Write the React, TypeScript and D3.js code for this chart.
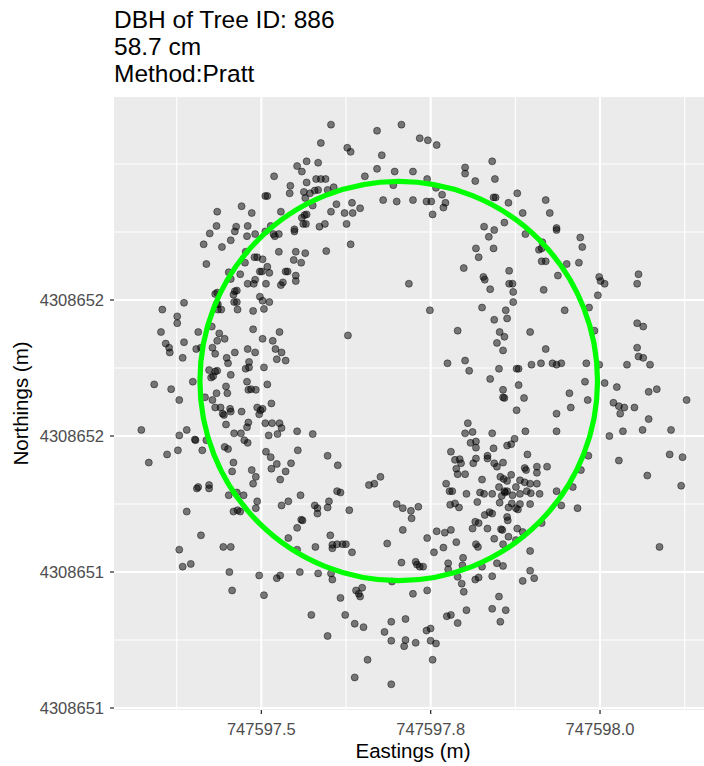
import * as d3 from "d3";

// Plot text
const TITLE_LINES = ["DBH of Tree ID: 886", "58.7 cm", "Method:Pratt"];
const X_LABEL = "Eastings (m)";
const Y_LABEL = "Northings (m)";

// Fitted stem (Pratt circle fit)
const STEM_EASTING = 747597.7028;
const STEM_NORTHING = 4308651.6809;
const DBH_CM = 58.7;

// Axis breaks
const X_BREAKS = [747597.5, 747597.75, 747598.0];
const X_BREAK_LABELS = ["747597.5", "747597.8", "747598.0"];
const X_MINOR = [747597.375, 747597.625, 747597.875, 747598.125];
const Y_BREAKS = [4308651.2, 4308651.4, 4308651.6, 4308651.8];
const Y_BREAK_LABELS = ["4308651", "4308651", "4308652", "4308652"];
const Y_MINOR = [4308651.3, 4308651.5, 4308651.7, 4308651.9, 4308652.0];

// Slice returns: [east offset, north offset] from the stem centre, in cm
const RETURN_OFFSETS_CM: [number, number][] = [
  [-13.6,32.3],[-15.0,31.6],[-14.3,30.8],[-18.4,30.1],[-16.0,28.7],[-16.1,27.6],[-13.6,29.2],[-14.0,27.8],[-13.1,27.6],[-12.4,28.0],
  [-13.8,26.9],[-12.7,25.8],[-19.7,27.2],[-19.4,27.2],[-23.2,25.7],[-26.8,24.9],[-21.7,24.7],[-17.4,24.9],[-14.3,24.0],[-13.9,24.4],
  [-13.6,24.5],[-14.1,23.1],[-13.7,23.1],[-26.9,22.8],[-24.0,22.7],[-24.2,22.0],[-22.3,22.8],[-27.9,21.7],[-22.4,21.3],[-21.2,21.6],
  [-18.9,22.8],[-15.4,22.3],[-15.4,22.0],[-19.7,22.0],[-18.5,21.6],[-17.7,21.6],[-18.3,21.3],[-28.8,20.1],[-26.1,19.7],[-24.8,20.7],
  [-22.6,19.0],[-17.7,19.0],[-15.2,19.0],[-13.8,18.8],[-21.3,18.2],[-20.9,18.2],[-20.1,17.9],[-15.5,17.8],[-14.4,17.4],[-28.4,17.2],
  [-19.4,16.8],[-22.7,17.4],[-20.5,16.1],[-20.2,16.1],[-19.1,15.9],[-16.7,16.1],[-16.4,16.1],[-25.1,16.0],[-23.4,15.7],[-15.2,15.5],
  [-15.2,14.7],[-22.3,14.3],[-21.4,14.3],[-21.2,14.9],[-19.6,14.3],[-17.4,14.1],[-17.1,14.5],[-24.8,15.0],[-24.2,13.2],[-23.9,13.3],
  [-24.4,12.7],[-27.1,12.8],[-26.8,13.0],[-20.5,12.4],[-20.1,11.8],[-19.1,11.6],[-24.3,11.6],[-23.9,11.6],[-31.7,11.5],[-26.9,11.3],
  [-26.7,11.3],[-34.9,10.5],[-26.7,10.5],[-26.2,10.5],[-23.8,10.5],[-21.5,10.3],[-19.9,10.6],
  [-10.0,37.7],[0.4,37.7],[-3.2,36.8],[-11.5,35.0],[-7.6,34.3],[-7.1,33.7],[3.1,35.7],[4.3,35.4],[5.6,34.7],[-2.5,33.2],
  [-11.9,32.1],[-3.2,31.2],[-0.6,30.8],[2.1,30.8],[-5.0,30.1],[4.2,29.7],[9.8,31.4],[9.8,30.5],[13.8,32.3],[11.3,29.4],
  [14.2,29.7],[-12.2,29.7],[-11.5,29.7],[-10.8,29.7],[-11.9,28.1],[-10.5,28.1],[-9.6,28.5],[-0.8,28.8],[5.5,28.4],[6.4,27.4],
  [-2.3,26.6],[-0.3,26.4],[2.1,26.6],[4.1,26.4],[4.8,26.4],[6.9,26.2],[6.6,25.5],[5.0,24.5],[14.0,27.0],[14.3,27.0],
  [16.2,26.2],[-9.2,26.0],[-6.9,26.2],[-5.7,25.4],[-10.0,24.9],[-8.0,24.7],[-6.8,24.7],[-10.9,23.1],[-11.7,22.7],[-7.7,23.1],
  [12.6,22.7],[14.1,22.2],[15.6,23.3],[13.3,21.2],[-7.1,20.1],[-10.7,19.1],[11.4,19.5],[14.0,19.5],[11.8,18.2],[9.6,16.6],
  [16.3,16.2],[12.5,15.3],[12.7,14.9],[16.3,14.3],[16.8,14.3],[16.9,13.1],[13.5,13.5],[1.5,14.3],[16.9,11.6],[4.6,10.4],
  [12.3,10.8],[15.8,10.4],
  [17.5,27.6],[21.7,26.6],[18.3,24.7],[22.3,24.7],[23.3,22.5],[23.3,22.2],[18.7,21.6],[21.2,20.4],[20.7,19.3],[21.1,19.5],
  [26.8,21.1],[27.1,19.7],[21.1,17.6],[21.7,17.6],[24.8,17.2],[26.6,17.4],[23.5,15.5],[21.4,13.4],[29.6,15.3],[29.8,14.7],
  [30.4,14.3],[35.4,15.7],[35.2,14.3],[29.4,12.6],[28.1,10.8],[24.5,10.4],
  [-32.7,9.5],[-32.7,8.5],[-35.1,7.2],[-29.6,7.2],[-34.4,5.5],[-31.7,5.7],[-33.9,4.9],[-33.8,4.2],[-31.9,3.4],[-29.9,4.7],
  [-29.2,4.9],[-21.5,7.6],[-17.6,7.2],[-26.5,7.0],[-25.7,6.2],[-26.8,5.9],[-27.6,8.0],[-20.1,6.2],[-18.6,5.9],[-27.5,4.9],
  [-27.1,4.0],[-24.2,4.2],[-22.3,4.7],[-21.2,4.2],[-18.2,4.7],[-17.3,4.2],[-25.4,3.4],[-25.2,2.6],[-22.1,2.8],[-18.0,3.2],
  [-16.7,3.0],[-19.9,2.0],[-22.6,1.8],[-22.1,2.0],[-28.0,1.6],[-27.1,1.4],[-26.8,1.5],[-27.7,0.5],[-27.4,0.7],[-24.8,0.9],
  [-36.1,-0.5],[-33.6,-1.2],[-30.4,-0.1],[-25.5,-0.8],[-22.4,-0.1],[-22.2,-1.3],[-21.8,-1.2],[-21.1,-1.3],[-19.4,-0.5],[-26.9,-1.8],
  [-25.3,-1.8],[-28.6,-2.4],[-27.5,-2.8],[-32.4,-2.8],[-27.1,-3.9],[-26.3,-3.9],[-26.0,-4.8],[-25.8,-5.0],[-24.9,-4.1],[-24.8,-4.5],
  [-23.2,-4.5],[-20.9,-3.9],[-20.6,-4.9],[-20.4,-4.3],[-20.1,-4.1],[-18.8,-3.3],[-19.7,-6.2],[-18.7,-6.2],[-17.6,-6.2],[-17.3,-6.9],
  [-25.5,-6.4],[-22.2,-6.1],[-22.4,-6.8],[-15.0,-7.4],[-12.7,-7.8],[-24.3,-7.7],[-23.3,-7.7],[-19.2,-8.0],[-17.9,-7.8],[-38.0,-7.2],
  [-32.4,-8.0],[-31.3,-7.2],[-30.1,-8.6],[-30.0,-8.7],[-28.4,-8.7],[-22.8,-8.7],[-22.3,-9.1],[-25.7,-9.7],[-25.2,-10.0],[-32.6,-10.2],
  [-34.2,-10.8],[-29.0,-10.2],[-19.6,-10.4],[-18.9,-11.2],[-14.9,-10.2],[-36.9,-12.0],[-24.4,-12.0],[-18.0,-12.2],[-15.9,-12.1],[-18.8,-12.9],
  [-16.7,-13.3],[-24.6,-13.3],[-21.7,-13.1],[-21.1,-14.1],[-21.5,-15.1],[-17.5,-14.5],[-29.8,-15.8],[-29.6,-15.6],[-28.0,-15.3],[-28.0,-15.8],
  [-25.1,-16.8],[-23.9,-16.4],[-22.9,-16.8],[-20.9,-17.7],[-14.5,-16.8],[-16.3,-17.7],[-17.3,-18.3],[-21.1,-18.7],[-12.4,-18.3],[-31.3,-19.2],
  [-24.4,-19.2],[-23.8,-19.0],[-23.4,-19.2],
  [16.0,9.2],[14.1,9.0],[-7.5,6.7],[8.7,7.4],[14.9,7.2],[15.6,6.5],[14.5,5.6],[15.4,4.5],[7.2,2.6],[9.8,3.0],
  [10.4,1.5],[14.8,1.8],[13.5,0.3],[15.4,-1.3],[15.4,-2.4],[15.6,-2.5],[10.2,-6.2],[9.8,-7.7],[10.9,-7.5],[13.8,-7.7],
  [10.6,-9.1],[11.4,-8.9],[11.4,-9.8],[7.7,-10.4],[14.0,-9.9],[16.0,-9.5],[16.6,-9.3],[13.1,-11.0],[13.1,-11.4],[8.3,-11.6],
  [9.0,-11.5],[9.2,-12.1],[11.4,-11.4],[11.0,-12.1],[14.1,-12.1],[14.5,-12.6],[15.4,-12.0],[8.5,-12.9],[8.7,-13.7],[9.8,-13.7],
  [-10.5,-11.0],[-9.0,-12.4],[-2.7,-14.1],[-3.6,-15.1],[-4.4,-15.3],[12.3,-14.5],[15.0,-14.1],[15.5,-14.4],[16.0,-14.7],[16.6,-13.8],
  [7.0,-15.1],[-9.1,-16.2],[-8.6,-16.4],[7.5,-16.2],[7.9,-16.2],[10.0,-16.6],[12.0,-16.4],[12.6,-16.6],[13.8,-16.6],[14.8,-15.6],
  [15.6,-16.2],[16.0,-16.2],[16.8,-16.8],[-10.3,-17.7],[-10.5,-18.6],[-12.0,-18.7],[-0.3,-18.1],[0.6,-18.7],[2.9,-18.5],[1.8,-19.1],
  [-7.3,-19.0],[7.6,-18.2],[8.3,-18.0],[8.9,-18.6],[11.6,-17.8],[14.9,-17.9],[16.2,-18.6],[16.7,-18.0],[15.2,-16.9],[15.7,-16.4],
  [13.4,-19.3],
  [19.4,7.2],[28.9,7.4],[35.2,8.5],[36.1,8.0],[21.7,4.7],[35.2,4.9],[35.4,3.6],[36.1,3.4],[19.6,2.4],[21.0,2.6],
  [22.7,2.6],[23.3,2.4],[24.0,2.6],[27.7,2.6],[29.6,2.4],[33.7,2.4],[37.1,2.4],[17.4,1.8],[17.7,1.8],[27.5,-0.1],
  [30.4,-0.3],[32.2,-0.9],[36.9,-1.6],[38.1,-1.2],[42.5,-2.8],[17.7,-0.6],[18.5,-2.5],[25.2,-1.8],[27.9,-2.8],[31.7,-3.2],
  [32.5,-3.7],[33.3,-3.9],[34.8,-3.9],[32.7,-4.8],[25.4,-3.9],[23.3,-4.8],[17.4,-4.3],[36.9,-5.6],[18.7,-7.4],[23.3,-7.4],
  [31.1,-8.1],[33.1,-7.4],[36.0,-7.2],[40.2,-7.2],[17.1,-8.5],[19.0,-10.8],[28.0,-11.0],[32.5,-11.7],[40.0,-10.8],[41.9,-11.2],
  [18.6,-12.8],[18.8,-13.1],[20.4,-12.6],[20.4,-13.5],[21.9,-12.6],[26.9,-13.1],[36.7,-13.9],[41.7,-15.4],[17.9,-14.6],[18.6,-14.9],
  [19.4,-15.1],[20.4,-15.1],[17.3,-15.6],[18.9,-16.2],[19.5,-16.5],[20.8,-16.6],[23.3,-16.2],[25.7,-15.6],[17.9,-16.6],[17.9,-18.1],
  [19.4,-18.1],[17.3,-18.7],[17.6,-18.9],[24.0,-18.3],[26.4,-18.7],
  [-14.4,-20.4],[-14.2,-20.5],[-15.0,-21.6],[-16.3,-23.1],[-15.0,-24.8],[-12.3,-24.4],[-29.2,-22.7],[-32.4,-24.8],[-25.9,-24.4],[-24.8,-24.4],
  [-31.9,-27.3],[-30.7,-26.9],[-25.0,-28.1],[-20.6,-28.6],[-18.0,-29.0],[-17.5,-28.6],[-14.6,-28.1],[-24.6,-30.8],[-19.9,-31.5],[-12.9,-34.4],
  [-12.0,-19.5],[1.9,-20.2],[12.7,-19.7],[13.8,-19.5],[16.0,-20.0],[16.1,-20.5],[11.3,-20.7],[11.8,-20.9],[10.9,-21.7],[13.1,-21.7],
  [15.1,-21.8],[15.3,-21.9],[16.2,-22.9],[14.1,-23.2],[15.4,-24.0],[11.4,-24.0],[11.7,-24.4],[14.5,-26.8],[15.4,-27.2],[13.8,-28.7],
  [11.3,-29.2],[11.8,-28.9],[12.3,-27.3],[9.5,-26.0],[9.4,-27.1],[8.7,-28.8],[9.3,-29.8],[9.6,-31.0],[7.3,-26.8],[7.3,-27.7],
  [14.8,-31.7],[13.8,-33.5],[15.8,-33.7],[15.0,-35.4],[10.0,-33.7],[7.7,-34.4],[7.1,-34.6],[8.7,-35.6],[5.6,-22.1],[6.8,-22.3],
  [7.7,-21.9],[4.2,-23.1],[8.5,-23.7],[6.6,-24.5],[5.2,-25.2],[0.6,-21.9],[-1.7,-23.9],[0.4,-26.7],[2.5,-26.6],[2.7,-27.0],
  [3.1,-27.3],[3.6,-27.3],[-10.1,-22.7],[-9.8,-24.1],[-9.8,-24.6],[-9.1,-24.0],[-8.3,-24.0],[-7.8,-24.0],[-6.9,-25.2],[-11.9,-28.3],
  [-10.0,-28.3],[-9.8,-29.2],[-5.4,-30.4],[-6.3,-30.8],[-5.9,-31.3],[-5.7,-31.7],[-1.0,-29.5],[2.1,-31.3],[4.2,-30.8],[-8.6,-31.9],
  [-7.9,-34.4],[-6.5,-35.7],[-5.2,-36.2],[1.0,-35.0],[-1.1,-35.4],[-2.1,-36.9],[4.1,-36.7],[4.7,-36.4],[-1.1,-38.2],[1.0,-38.1],
  [0.8,-39.0],[2.5,-38.5],[4.7,-38.2],[5.5,-38.6],[-10.5,-37.5],[-4.6,-41.0],[5.0,-41.0],[-6.5,-43.6],[-1.1,-44.6],
  [17.5,-21.7],[18.3,-22.2],[17.3,-23.4],[21.1,-20.9],[19.4,-25.0],[19.4,-27.9],[20.0,-29.0],[18.3,-29.4],[38.5,-24.4],
];

const W = 704;
const H = 766;
const PANEL = { left: 114, right: 712, top: 97, bottom: 710 };
const FONT = "'Liberation Sans', Arial, Helvetica, sans-serif";

export default function App() {
  const x = d3.scaleLinear().domain([747597.375, 747598.125]).range([176.7, 684.7]);
  const y = d3.scaleLinear().domain([4308651.2, 4308652.0]).range([708, 164]);

  const pts = RETURN_OFFSETS_CM.map(([de, dn]) => ({
    e: STEM_EASTING + de / 100,
    n: STEM_NORTHING + dn / 100,
  }));

  const r = DBH_CM / 200;
  const cx = x(STEM_EASTING);
  const cy = y(STEM_NORTHING);
  const rx = x(STEM_EASTING + r) - cx;
  const ry = cy - y(STEM_NORTHING + r);

  return (
    <div style={{ position: "absolute", left: 0, top: 0 }}>
      <svg width={W} height={H} style={{ display: "block", fontFamily: FONT }}>
        <rect x={0} y={0} width={W} height={H} fill="#ffffff" />
        <rect
          x={PANEL.left}
          y={PANEL.top}
          width={PANEL.right - PANEL.left}
          height={PANEL.bottom - PANEL.top}
          fill="#EBEBEB"
        />
        {X_MINOR.map((v) => (
          <line key={"xm" + v} x1={x(v)} x2={x(v)} y1={PANEL.top} y2={PANEL.bottom} stroke="#fff" strokeWidth={1.1} />
        ))}
        {Y_MINOR.map((v) => (
          <line key={"ym" + v} x1={PANEL.left} x2={PANEL.right} y1={y(v)} y2={y(v)} stroke="#fff" strokeWidth={1.1} />
        ))}
        {X_BREAKS.map((v) => (
          <line key={"xM" + v} x1={x(v)} x2={x(v)} y1={PANEL.top} y2={PANEL.bottom} stroke="#fff" strokeWidth={2.1} />
        ))}
        {Y_BREAKS.map((v) => (
          <line key={"yM" + v} x1={PANEL.left} x2={PANEL.right} y1={y(v)} y2={y(v)} stroke="#fff" strokeWidth={2.1} />
        ))}

        <g>
          {pts.map((p, i) => (
            <circle
              key={i}
              cx={x(p.e)}
              cy={y(p.n)}
              r={3.5}
              fill="#000"
              fillOpacity={0.5}
              stroke="#000"
              strokeOpacity={0.5}
              strokeWidth={0.9}
            />
          ))}
        </g>

        <ellipse cx={cx} cy={cy} rx={rx} ry={ry} fill="none" stroke="#00FF00" strokeWidth={5.2} />

        {X_BREAKS.map((v, i) => (
          <g key={"xt" + v}>
            <line x1={x(v)} x2={x(v)} y1={PANEL.bottom} y2={PANEL.bottom + 4} stroke="#333" strokeWidth={1.3} />
            <text x={x(v)} y={PANEL.bottom + 25} textAnchor="middle" fontSize={16.5} fill="#4D4D4D">
              {X_BREAK_LABELS[i]}
            </text>
          </g>
        ))}
        {Y_BREAKS.map((v, i) => (
          <g key={"yt" + v}>
            <line x1={PANEL.left - 4} x2={PANEL.left} y1={y(v)} y2={y(v)} stroke="#333" strokeWidth={1.3} />
            <text x={PANEL.left - 10} y={y(v)} dy="0.35em" textAnchor="end" fontSize={16.5} fill="#4D4D4D">
              {Y_BREAK_LABELS[i]}
            </text>
          </g>
        ))}

        <text x={(PANEL.left + PANEL.right) / 2} y={758} textAnchor="middle" fontSize={20.5} fill="#000">
          {X_LABEL}
        </text>
        <text
          transform={`translate(28,${(PANEL.top + PANEL.bottom) / 2}) rotate(-90)`}
          textAnchor="middle"
          fontSize={20.5}
          fill="#000"
        >
          {Y_LABEL}
        </text>

        {TITLE_LINES.map((t, i) => (
          <text key={t} x={PANEL.left} y={28.3 + i * 27} fontSize={24.5} fill="#000">
            {t}
          </text>
        ))}
      </svg>
    </div>
  );
}
